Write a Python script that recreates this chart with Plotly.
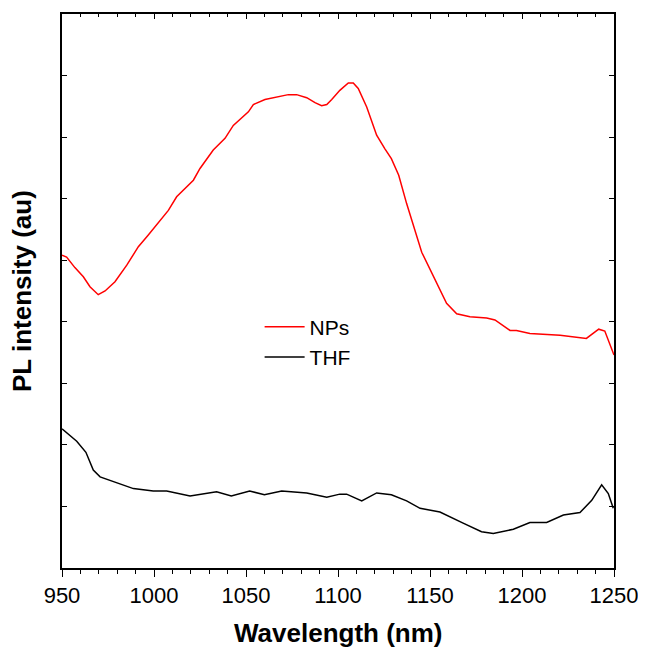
import plotly.graph_objects as go

# PL spectra (arbitrary units)
wl_nps = [950, 952.5, 957, 961.6, 965.2, 969.7, 973.4, 978.8, 985.2, 991.5,
          996.9, 1003.3, 1007.8, 1012.3, 1021.4, 1025, 1032.2, 1038.6, 1043.1, 1051.3,
          1054, 1060.3, 1066.7, 1073, 1077.5, 1083, 1087.5, 1091.1, 1093.9, 1096.6,
          1101, 1105.6, 1108.3, 1111, 1115.6, 1121, 1125.5, 1129, 1133, 1137.3,
          1145.5, 1151.8, 1159, 1164.5, 1171.7, 1180.8, 1185.3, 1193.5, 1197, 1204.3,
          1209.8, 1220.7, 1235, 1241.7, 1245, 1250]
pl_nps = [5.08, 5.05, 4.88, 4.73, 4.57, 4.44, 4.50, 4.65, 4.92, 5.22,
          5.41, 5.65, 5.81, 6.03, 6.30, 6.49, 6.79, 6.98, 7.19, 7.41,
          7.53, 7.61, 7.65, 7.69, 7.69, 7.64, 7.56, 7.51, 7.53, 7.61,
          7.76, 7.88, 7.88, 7.79, 7.49, 7.03, 6.81, 6.65, 6.38, 5.92,
          5.13, 4.73, 4.30, 4.13, 4.08, 4.06, 4.03, 3.86, 3.86, 3.81,
          3.80, 3.78, 3.73, 3.88, 3.85, 3.46]

wl_thf = [950, 958, 963, 967, 970.7, 977.9, 988.8, 999.6, 1006.9, 1019.6,
          1034, 1042, 1052, 1060, 1069.4, 1083, 1093.9, 1101, 1104.7, 1112.9,
          1121, 1129, 1137.3, 1144.6, 1155.4, 1168, 1178, 1184.4, 1195.3, 1204.3,
          1213.4, 1222.5, 1231.5, 1237.9, 1243.3, 1246.9, 1249.6]
pl_thf = [2.26, 2.06, 1.88, 1.59, 1.48, 1.40, 1.29, 1.25, 1.25, 1.17,
          1.24, 1.17, 1.25, 1.19, 1.25, 1.22, 1.15, 1.20, 1.20, 1.09,
          1.22, 1.19, 1.09, 0.97, 0.91, 0.73, 0.59, 0.56, 0.63, 0.74,
          0.74, 0.86, 0.90, 1.10, 1.35, 1.21, 0.97]

x_ticks = [950, 1000, 1050, 1100, 1150, 1200, 1250]

FONT = "Liberation Sans, Arial, sans-serif"

fig = go.Figure()
fig.add_trace(go.Scatter(x=wl_nps, y=pl_nps, mode="lines", name="NPs",
                         line=dict(color="#ff0000", width=1.5)))
fig.add_trace(go.Scatter(x=wl_thf, y=pl_thf, mode="lines", name="THF",
                         line=dict(color="black", width=1.5)))
# invisible trace so the top axis (inside ticks) gets drawn
fig.add_trace(go.Scatter(x=[950, 1250], y=[0, 0], xaxis="x2", mode="lines",
                         line=dict(width=0), hoverinfo="skip", showlegend=False))

# page body has an 8px default margin, so the figure is sized to fit the window
fig.update_layout(
    width=638, height=641,
    margin=dict(l=54, r=32, t=6, b=81),
    paper_bgcolor="white", plot_bgcolor="white",
    font=dict(family=FONT, size=22, color="black"),
    showlegend=True,
    legend=dict(x=0.358, y=0.472, xanchor="left", yanchor="top",
                bgcolor="rgba(0,0,0,0)", font=dict(size=21),
                tracegroupgap=0, itemwidth=40),
    xaxis=dict(range=[950, 1250], tickvals=x_ticks, ticks="outside", ticklen=7,
               tickwidth=1.2, tickcolor="black", showline=True, linecolor="black",
               linewidth=1.5, showgrid=False, zeroline=False, ticklabelstandoff=0,
               tickfont=dict(size=22),
               minor=dict(dtick=10, ticks="outside", ticklen=4, tickcolor="black",
                          showgrid=False)),
    xaxis2=dict(range=[950, 1250], overlaying="x", side="top", matches="x",
                tickvals=x_ticks, ticks="inside", ticklen=5, tickcolor="black",
                showticklabels=False, showline=True, linecolor="black", linewidth=1.5,
                showgrid=False, zeroline=False,
                minor=dict(dtick=10, ticks="inside", ticklen=3, tickcolor="black",
                           showgrid=False)),
    yaxis=dict(range=[0, 9], dtick=1, ticks="inside", ticklen=5, tickcolor="black",
               showticklabels=False, showline=True, linecolor="black", linewidth=1.5,
               mirror="ticks", showgrid=False, zeroline=False),
)

fig.add_annotation(text="<b>Wavelength (nm)</b>", xref="paper", yref="paper",
                   x=0.5, y=-0.117, xanchor="center", yanchor="middle",
                   showarrow=False, font=dict(size=26, family=FONT))
fig.add_annotation(text="<b>PL intensity (au)</b>", xref="paper", yref="paper",
                   x=-0.0725, y=0.5, xanchor="center", yanchor="middle",
                   textangle=-90, showarrow=False, font=dict(size=26, family=FONT))

fig.write_html("out.html")
